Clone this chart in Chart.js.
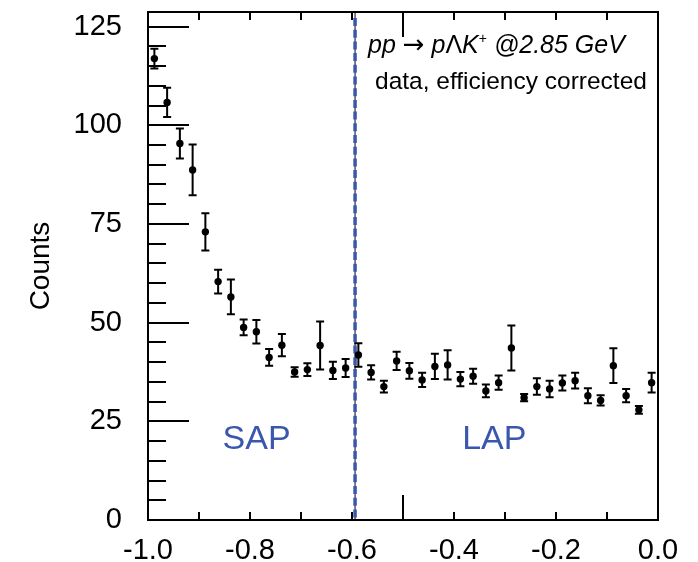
<!DOCTYPE html>
<html>
<head>
<meta charset="utf-8">
<script src="https://cdn.jsdelivr.net/npm/chart.js@4"></script>
<style>
  body { margin: 0; background: #fff; }
  canvas { display: block; }
</style>
</head>
<body>
<canvas id="chart" width="698" height="562"></canvas>
<script>
// bin centres (cos theta) and efficiency corrected counts with errors
const binCenters = [-0.9875, -0.9625, -0.9375, -0.9125, -0.8875, -0.8625, -0.8375, -0.8125,
  -0.7875, -0.7625, -0.7375, -0.7125, -0.6875, -0.6625, -0.6375, -0.6125,
  -0.5875, -0.5625, -0.5375, -0.5125, -0.4875, -0.4625, -0.4375, -0.4125,
  -0.3875, -0.3625, -0.3375, -0.3125, -0.2875, -0.2625, -0.2375, -0.2125,
  -0.1875, -0.1625, -0.1375, -0.1125, -0.0875, -0.0625, -0.0375, -0.0125];
const counts = [116.9, 105.8, 95.4, 88.7, 73.0, 60.4, 56.5, 48.8,
  47.7, 41.2, 44.3, 37.5, 38.1, 44.2, 37.9, 38.5,
  41.8, 37.4, 33.8, 40.3, 37.8, 35.5, 38.9, 39.3,
  35.7, 36.4, 32.7, 34.8, 43.6, 31.0, 33.8, 33.2,
  34.7, 35.3, 31.5, 30.3, 39.1, 31.5, 27.9, 34.8];
const errors = [2.5, 3.7, 3.8, 6.4, 4.7, 3.0, 4.4, 2.0,
  3.0, 2.1, 2.8, 1.2, 1.6, 6.1, 2.2, 2.3,
  3.0, 1.8, 1.5, 2.3, 2.0, 1.8, 3.2, 3.7,
  1.8, 1.9, 1.6, 1.8, 5.7, 0.9, 2.1, 2.1,
  1.9, 2.0, 1.9, 1.3, 4.4, 1.7, 1.0, 2.5];
const yTickLabels = [0, 25, 50, 75, 100, 125];
const xTickLabels = [-1.0, -0.8, -0.6, -0.4, -0.2, 0.0];
const cutValue = -0.594;
const regionLabels = ['SAP', 'LAP'];
const regionPos = [-0.787, -0.321];

const FONT = "'Liberation Sans', Arial, sans-serif";
const BLUE = '#3b57ad';

const frame = {
  id: 'frame',
  beforeDatasetsDraw(chart) {
    const {ctx, chartArea: a, scales: {x, y}} = chart;
    ctx.save();
    // cut line: thin black under blue dashes
    const cx = x.getPixelForValue(cutValue);
    ctx.strokeStyle = '#000';
    ctx.lineWidth = 1;
    ctx.beginPath(); ctx.moveTo(cx, a.top); ctx.lineTo(cx, a.bottom); ctx.stroke();
    ctx.strokeStyle = BLUE;
    ctx.lineWidth = 3.5;
    ctx.setLineDash([8, 3.7]);
    ctx.beginPath(); ctx.moveTo(cx, a.top + 6); ctx.lineTo(cx, a.bottom); ctx.stroke();
    ctx.setLineDash([]);

    // region labels
    ctx.fillStyle = BLUE;
    ctx.font = `34px ${FONT}`;
    ctx.textAlign = 'center';
    ctx.textBaseline = 'middle';
    regionLabels.forEach((t, i) => {
      ctx.fillText(t, x.getPixelForValue(regionPos[i]), y.getPixelForValue(20.3));
    });
    ctx.restore();
  },
  afterDatasetsDraw(chart) {
    const {ctx, scales: {x, y}} = chart;
    ctx.save();
    ctx.strokeStyle = '#000';
    ctx.lineWidth = 2;
    binCenters.forEach((c, i) => {
      const px = x.getPixelForValue(c);
      const lo = y.getPixelForValue(counts[i] - errors[i]);
      const hi = y.getPixelForValue(counts[i] + errors[i]);
      ctx.beginPath();
      ctx.moveTo(px, lo); ctx.lineTo(px, hi);
      ctx.moveTo(px - 4, lo); ctx.lineTo(px + 4, lo);
      ctx.moveTo(px - 4, hi); ctx.lineTo(px + 4, hi);
      ctx.stroke();
    });
    ctx.restore();
  },
  afterDraw(chart) {
    const {ctx, chartArea: a, scales: {x, y}} = chart;
    ctx.save();
    ctx.strokeStyle = '#000';
    ctx.lineWidth = 2;
    ctx.strokeRect(a.left, a.top, a.right - a.left, a.bottom - a.top);
    ctx.beginPath();
    for (let v = 0; v <= 125; v += 5) {
      const py = Math.round(y.getPixelForValue(v));
      ctx.moveTo(a.left, py); ctx.lineTo(a.left + (v % 25 === 0 ? 41 : 18), py);
    }
    for (let k = 1; k < 10; k++) {
      const px = Math.round(x.getPixelForValue(-1 + k / 10));
      const len = k === 5 ? 25 : 8;
      ctx.moveTo(px, a.bottom); ctx.lineTo(px, a.bottom - len);
      ctx.moveTo(px, a.top); ctx.lineTo(px, a.top + len);
    }
    ctx.stroke();

    // reaction text
    ctx.fillStyle = '#000';
    ctx.textAlign = 'left';
    ctx.textBaseline = 'alphabetic';
    let tx = 368;
    const parts = [
      ['pp ', `italic 25px ${FONT}`, 0],
      ['\u2192', `26px 'DejaVu Sans', sans-serif`, 0],
      [' p', `italic 25px ${FONT}`, 0],
      ['\u039B', `25px ${FONT}`, 0],
      ['K', `italic 25px ${FONT}`, 0],
      ['+', `14px ${FONT}`, -10],
      [' @2.85 GeV', `italic 25px ${FONT}`, 0]
    ];
    parts.forEach(([t, f, dy]) => {
      ctx.font = f;
      ctx.fillText(t, tx, 53 + dy);
      tx += ctx.measureText(t).width;
    });
    ctx.font = `24.5px ${FONT}`;
    ctx.fillText('data, efficiency corrected', 375, 89);
    ctx.restore();
  }
};

new Chart(document.getElementById('chart'), {
  type: 'scatter',
  data: {
    datasets: [{
      data: binCenters.map((c, i) => ({x: c, y: counts[i]})),
      pointRadius: 3.7,
      pointHoverRadius: 3.7,
      backgroundColor: '#000',
      borderColor: '#000',
      borderWidth: 0,
      clip: false
    }]
  },
  options: {
    responsive: false,
    animation: false,
    devicePixelRatio: 1,
    layout: {padding: {top: 12, right: 40, left: 0, bottom: 0}},
    plugins: {legend: {display: false}, tooltip: {enabled: false}},
    scales: {
      x: {
        type: 'linear',
        min: -1, max: 0,
        grid: {display: false},
        border: {display: false},
        afterBuildTicks(s) { s.ticks = xTickLabels.map(v => ({value: v})); },
        afterFit(s) { s.height = 42; s.paddingLeft = 0; s.paddingRight = 0; },
        ticks: {
          color: '#000',
          font: {family: FONT, size: 29},
          padding: 6,
          autoSkip: false,
          maxRotation: 0,
          callback: v => Number(v).toFixed(1)
        }
      },
      y: {
        type: 'linear',
        min: 0, max: 128.7,
        grid: {display: false},
        border: {display: false},
        afterBuildTicks(s) { s.ticks = yTickLabels.map(v => ({value: v})); },
        afterFit(s) { s.width = 148; s.paddingTop = 0; s.paddingBottom = 0; },
        title: {
          display: true,
          text: 'Counts',
          color: '#000',
          font: {family: FONT, size: 28},
          padding: {top: 24, bottom: 0}
        },
        ticks: {
          color: '#000',
          font: {family: FONT, size: 29},
          padding: 18
        }
      }
    }
  },
  plugins: [frame]
});
</script>
</body>
</html>
